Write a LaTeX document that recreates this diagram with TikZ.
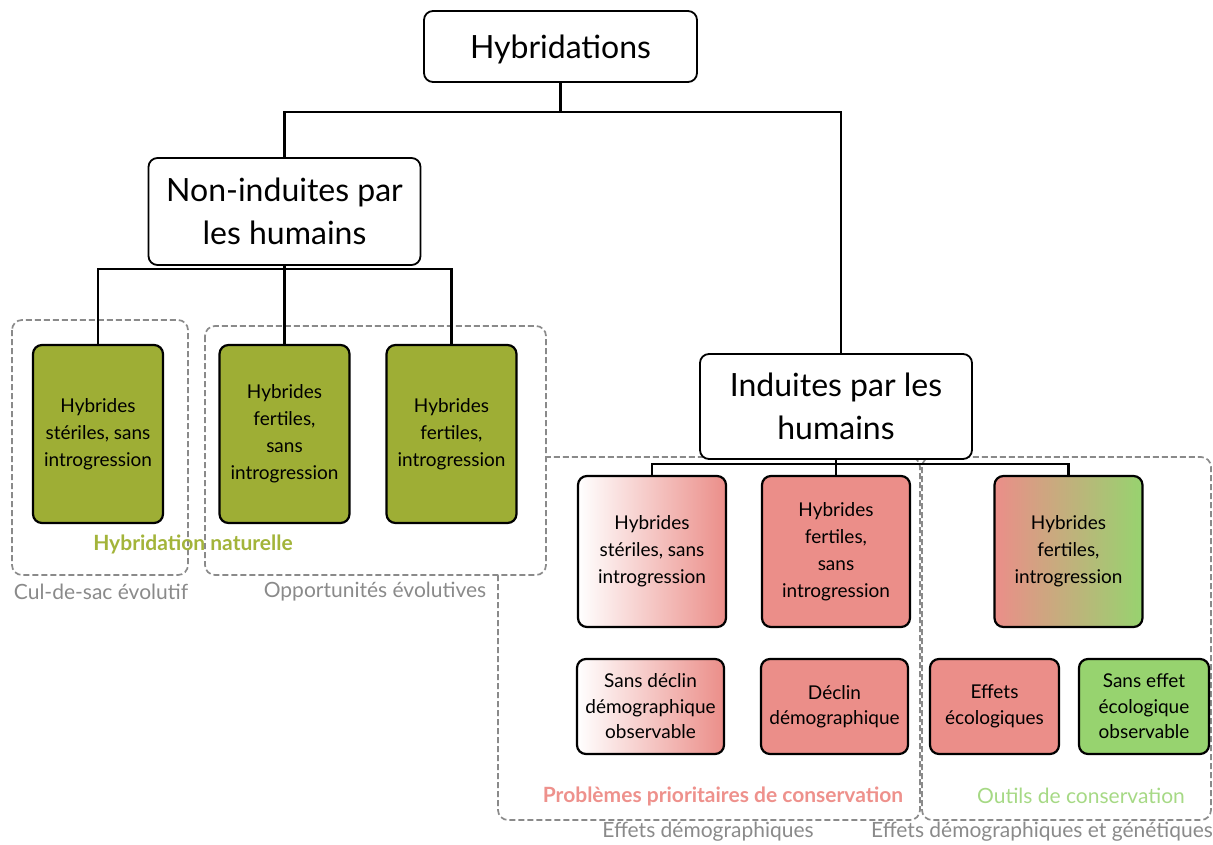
\documentclass[tikz,border=0pt]{standalone}
\usepackage{fontspec}
\setmainfont{Lato}
\definecolor{oliveG}{HTML}{9EAE35}
\definecolor{oliveT}{HTML}{A3B43A}
\definecolor{pinkR}{HTML}{EB8E89}
\definecolor{pinkT}{HTML}{EE918C}
\definecolor{greenL}{HTML}{97D36F}
\definecolor{greenT}{HTML}{A6D985}
\definecolor{grayT}{HTML}{8A8A8A}
\definecolor{grayZ}{HTML}{8A8A8A}
\tikzset{
  bigbox/.style={draw, line width=1.8pt, rounded corners=9pt, fill=white, align=center,
    font=\fontsize{32}{43}\selectfont, inner sep=0pt},
  smallbox/.style={draw, line width=2.2pt, rounded corners=9pt, align=center,
    font=\fontsize{19}{27}\selectfont, inner sep=0pt},
  lowbox/.style={smallbox, font=\fontsize{19}{25.5}\selectfont},
  zone/.style={draw=grayZ, dash pattern=on 6pt off 3pt, line width=1.7pt, rounded corners=10pt},
  link/.style={line width=2.2pt},
  graylabel/.style={text=grayT, font=\fontsize{21}{24}\selectfont},
}
\begin{document}
\begin{tikzpicture}[x=1pt,y=-1pt]
\useasboundingbox (0,0) rectangle (1213,845);
% zones
\draw[zone] (498,457) rectangle (920,820);
\draw[zone] (922,457) rectangle (1211,820);
\draw[zone, fill=white] (205,326) rectangle (546,575);
\draw[zone] (12,320) rectangle (188,575);
% coordinates for buses
\coordinate (bus0) at (560.5,112);
\coordinate (bus1) at (284.5,269);
\coordinate (bus2) at (836,464);
% main boxes
\node[bigbox, text depth=0pt, minimum width=273, minimum height=71] (hyb) at (560.5,46.5) {Hybridations};
\node[bigbox, minimum width=272, minimum height=107] (non) at (284.5,211.5) {Non-induites par\\les humains};
\node[bigbox, minimum width=272, minimum height=105] (ind) at (836,406.5) {Induites par les\\humains};
% green boxes
\node[smallbox, fill=oliveG, minimum width=130, minimum height=178] (g1) at (98,434) {Hybrides\\stériles, sans\\introgression};
\node[smallbox, fill=oliveG, minimum width=130, minimum height=178] (g2) at (284.5,434) {Hybrides\\fertiles,\\sans\\introgression};
\node[smallbox, fill=oliveG, minimum width=130, minimum height=178] (g3) at (451.5,434) {Hybrides\\fertiles,\\introgression};
% top row induced
\node[smallbox, left color=white, right color=pinkR, minimum width=148, minimum height=151] (p1) at (652,551.5) {Hybrides\\stériles, sans\\introgression};
\node[smallbox, fill=pinkR, minimum width=148, minimum height=151] (p2) at (836,551.5) {Hybrides\\fertiles,\\sans\\introgression};
\node[smallbox, left color=pinkR, right color=greenL, minimum width=148, minimum height=151] (p3) at (1068.5,551.5) {Hybrides\\fertiles,\\introgression};
% bottom row
\node[lowbox, left color=white, right color=pinkR, minimum width=147, minimum height=95] (q1) at (650.5,706.5) {Sans déclin\\démographique\\observable};
\node[lowbox, fill=pinkR, minimum width=147, minimum height=95] (q2) at (834.5,706.5) {Déclin\\démographique};
\node[lowbox, fill=pinkR, minimum width=129, minimum height=95] (q3) at (994.5,706.5) {Effets\\écologiques};
\node[lowbox, fill=greenL, minimum width=130, minimum height=95] (q4) at (1144,706.5) {Sans effet\\écologique\\observable};
% connectors
\draw[link] (hyb.south) -- (bus0);
\draw[link] (non.north) |- (bus0) -| ([xshift=5pt]ind.north);
\draw[link] (non.south) -- (bus1);
\draw[link] (g1.north) |- (bus1) -| (g3.north);
\draw[link] (bus1) -- (g2.north);
\draw[link] (ind.south) -- (bus2);
\draw[link] (p1.north) |- (bus2) -| (p3.north);
\draw[link] (bus2) -- (p2.north);
% labels
\node[text=oliveT, font=\bfseries\fontsize{21}{24}\selectfont] (natl) at (193,544) {Hybridation naturelle};
\node[graylabel] (cds) at (101,592) {Cul-de-sac évolutif};
\node[graylabel] (opp) at (375,592) {Opportunités évolutives};
\node[text=pinkT, font=\bfseries\fontsize{21}{24}\selectfont] (prob) at (723,796) {Problèmes prioritaires de conservation};
\node[text=greenT, font=\fontsize{21}{24}\selectfont] (outi) at (1081,796) {Outils de conservation};
\node[graylabel] (edem) at (708,832) {Effets démographiques};
\node[graylabel] (edg) at (1042,832) {Effets démographiques et génétiques};
\end{tikzpicture}
\end{document}
